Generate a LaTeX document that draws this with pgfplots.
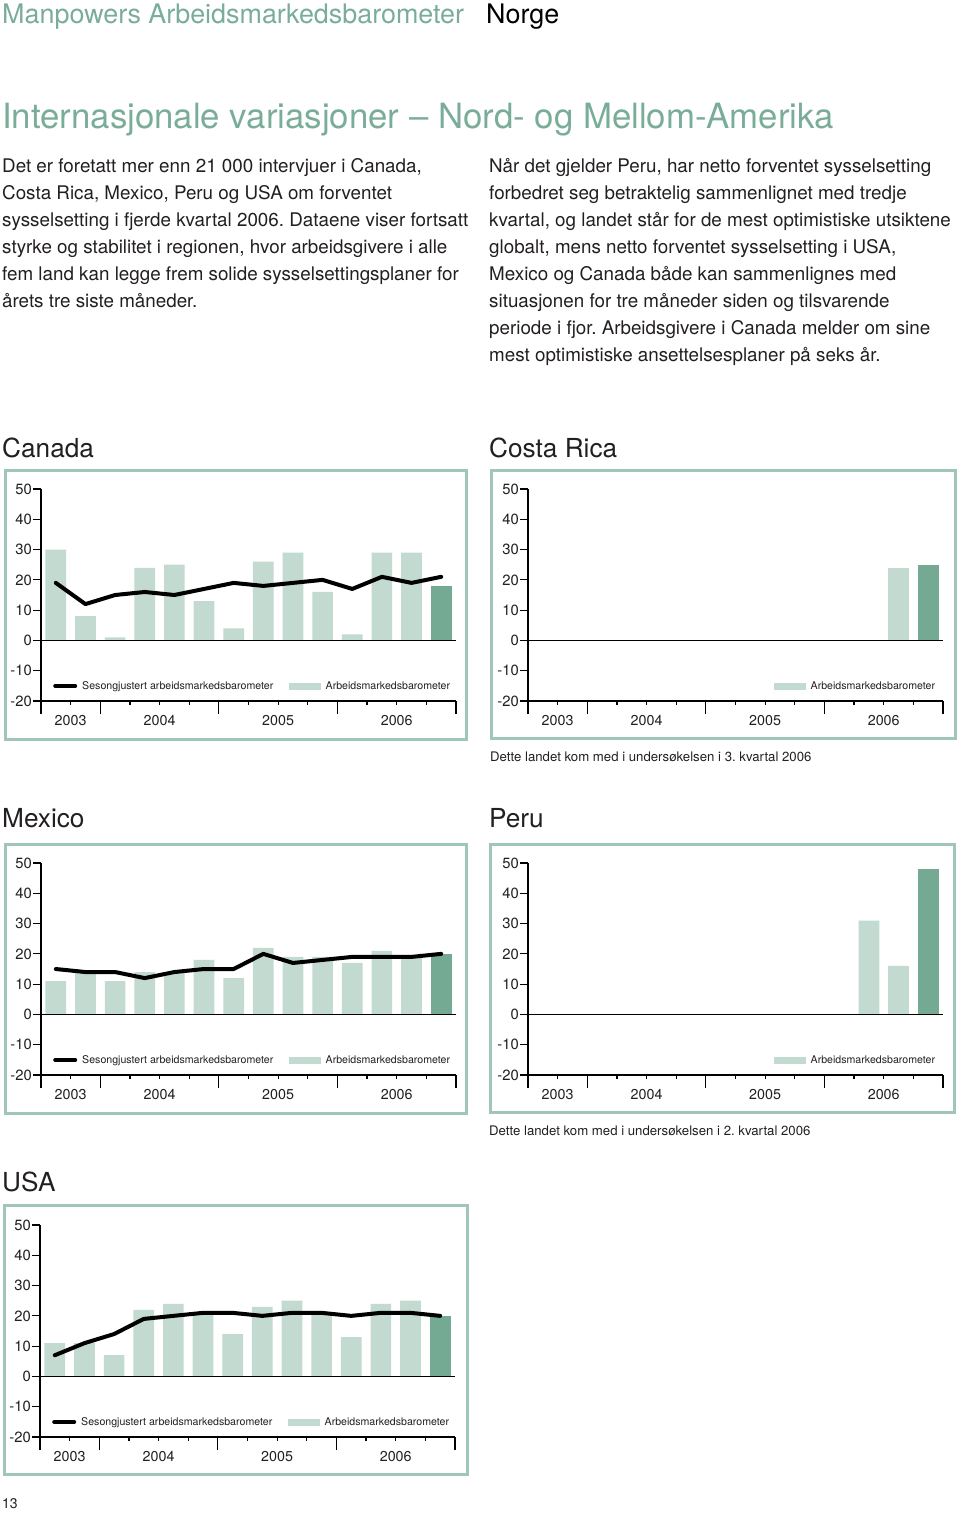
\documentclass[border=0pt]{standalone}
\usepackage{fontspec}
\setmainfont{TeX Gyre Heros}
\usepackage{pgfplots}
\pgfplotsset{compat=1.18}
\frenchspacing
\definecolor{titlegreen}{RGB}{122,173,153}
\definecolor{framecol}{RGB}{160,198,183}
\definecolor{barlight}{RGB}{194,218,208}
\definecolor{bardark}{RGB}{116,170,148}
\definecolor{bodytext}{RGB}{35,31,32}

\pgfplotsset{
  mpbase/.style={
    scale only axis, width=415pt, height=212pt,
    xmin=0.5, xmax=14.5, ymin=-20, ymax=50,
    axis lines*=left,
    axis line style={line width=1.5pt, black},
    tick align=outside,
    major tick length=4pt, minor tick length=4pt,
    tick style={black, line width=1.2pt},
    ytick=\empty,
    extra y ticks={-20,-10,0,10,20,30,40,50},
    extra y tick labels={-20,-10,0,10,20,30,40,50},
    extra y tick style={major tick length=8pt},
    yticklabel style={font=\fontsize{14.8}{15}\selectfont, inner sep=1pt, text=bodytext},
    xtick={1.5,4.5,8.5,12.5},
    xticklabels={2003,2004,2005,2006},
    xticklabel style={font=\fontsize{14.3}{15}\selectfont, yshift=-7pt, text=bodytext},
    minor xtick={3.5,5.5,7.5,9.5,11.5,13.5},
    extra x ticks={0.5,2.5,6.5,10.5,14.5},
    extra x tick labels={},
    extra x tick style={major tick length=13pt},
    clip=false,
    legend columns=2,
    legend style={draw=none, fill=none, inner sep=0pt, font=\fontsize{10.6}{12}\selectfont, text=bodytext,
      /tikz/every even column/.append style={column sep=14pt},
      /tikz/every odd column/.append style={column sep=3pt}, anchor=west},
    legend cell align=left,
  },
  barL/.style={ybar, bar shift=0pt, bar width=20.7pt, fill=barlight, draw=none},
  barD/.style={ybar, bar shift=0pt, bar width=20.7pt, fill=bardark, draw=none},
  sline/.style={black, line width=4pt, line join=round, line cap=round, mark=none, sharp plot},
}

\newcommand{\linelegend}{%
  \addlegendimage{legend image code/.code={\draw[black, line width=4pt, line cap=round] (2pt,0pt) -- (22pt,0pt);}}
  \addlegendentry{Sesongjustert arbeidsmarkedsbarometer}}
\newcommand{\barlegend}{%
  \addlegendimage{legend image code/.code={\fill[barlight] (0pt,-3pt) rectangle (31pt,3pt);}}
  \addlegendentry{Arbeidsmarkedsbarometer}}
\newcommand{\zeroline}{\draw[black, line width=1.5pt] (axis cs:0.5,0) -- (axis cs:14.5,0);}

\begin{document}
\begin{tikzpicture}
\useasboundingbox (0pt,0pt) rectangle (960pt,-1513pt);

% header
\node[anchor=base west, inner sep=0pt, text=titlegreen, font=\fontsize{26.9}{30}\selectfont] at (2pt,-23pt) {Manpowers Arbeidsmarkedsbarometer};
\node[anchor=base west, inner sep=0pt, text=black, font=\fontsize{26.9}{30}\selectfont] at (486pt,-23pt) {Norge};
\node[anchor=base west, inner sep=0pt, text=titlegreen, font=\fontsize{34.8}{40}\selectfont] at (2pt,-128pt) {Internasjonale variasjoner – Nord- og Mellom-Amerika};

% body text
\begin{scope}[every node/.style={anchor=base west, inner sep=0pt, text=bodytext, font=\fontsize{18.8}{27}\selectfont}]
\node at (2pt,-172pt) {Det er foretatt mer enn 21 000 intervjuer i Canada,};
\node at (2pt,-199pt) {Costa Rica, Mexico, Peru og USA om forventet};
\node at (2pt,-226pt) {sysselsetting i fjerde kvartal 2006. Dataene viser fortsatt};
\node at (2pt,-253pt) {styrke og stabilitet i regionen, hvor arbeidsgivere i alle};
\node at (2pt,-280pt) {fem land kan legge frem solide sysselsettingsplaner for};
\node at (2pt,-307pt) {årets tre siste måneder.};
\node at (489pt,-172pt) {Når det gjelder Peru, har netto forventet sysselsetting};
\node at (489pt,-199pt) {forbedret seg betraktelig sammenlignet med tredje};
\node at (489pt,-226pt) {kvartal, og landet står for de mest optimistiske utsiktene};
\node at (489pt,-253pt) {globalt, mens netto forventet sysselsetting i USA,};
\node at (489pt,-280pt) {Mexico og Canada både kan sammenlignes med};
\node at (489pt,-307pt) {situasjonen for tre måneder siden og tilsvarende};
\node at (489pt,-334pt) {periode i fjor. Arbeidsgivere i Canada melder om sine};
\node at (489pt,-361pt) {mest optimistiske ansettelsesplaner på seks år.};
\end{scope}

% chart titles
\begin{scope}[every node/.style={anchor=base west, inner sep=0pt, text=bodytext, font=\fontsize{26.2}{30}\selectfont}]
\node at (2pt,-457pt) {Canada};
\node at (489pt,-457pt) {Costa Rica};
\node at (2pt,-827pt) {Mexico};
\node at (489pt,-827pt) {Peru};
\node at (2pt,-1191pt) {USA};
\end{scope}

% captions and page number
\node[anchor=base west, inner sep=0pt, text=bodytext, font=\fontsize{13.2}{15}\selectfont] at (490pt,-761pt) {Dette landet kom med i undersøkelsen i 3. kvartal 2006};
\node[anchor=base west, inner sep=0pt, text=bodytext, font=\fontsize{13.2}{15}\selectfont] at (489pt,-1135pt) {Dette landet kom med i undersøkelsen i 2. kvartal 2006};
\node[anchor=base west, inner sep=0pt, text=bodytext, font=\fontsize{14}{15}\selectfont] at (2pt,-1508pt) {13};

% frames
\draw[framecol, line width=3pt] (5pt,-470pt) rectangle (466pt,-739pt);
\draw[framecol, line width=3pt] (491pt,-470pt) rectangle (955pt,-738pt);
\draw[framecol, line width=3pt] (5pt,-844pt) rectangle (466pt,-1113pt);
\draw[framecol, line width=3pt] (490pt,-844pt) rectangle (954pt,-1112pt);
\draw[framecol, line width=3pt] (4pt,-1205pt) rectangle (467pt,-1474pt);

% Canada
\begin{axis}[mpbase, at={(41pt,-701pt)}, anchor=south west,
  legend style={at={(0.029,0.071)}}]
\addplot[barL, forget plot] coordinates {(1,30) (2,8) (3,1) (4,24) (5,25) (6,13) (7,4) (8,26) (9,29) (10,16) (11,2) (12,29) (13,29)};
\addplot[barD, forget plot] coordinates {(14,18)};
\zeroline
\addplot[sline, forget plot] coordinates {(1,19) (2,12) (3,15) (4,16) (5,15) (6,17) (7,19) (8,18) (9,19) (10,20) (11,17) (12,21) (13,19) (14,21)};
\linelegend
\barlegend
\end{axis}

% Costa Rica
\begin{axis}[mpbase, at={(528pt,-701pt)}, anchor=south west,
  legend columns=1, legend style={at={(0.593,0.071)}}]
\addplot[barL, forget plot] coordinates {(13,24)};
\addplot[barD, forget plot] coordinates {(14,25)};
\zeroline
\barlegend
\end{axis}

% Mexico
\begin{axis}[mpbase, at={(41pt,-1075pt)}, anchor=south west,
  legend style={at={(0.029,0.071)}}]
\addplot[barL, forget plot] coordinates {(1,11) (2,14) (3,11) (4,14) (5,14) (6,18) (7,12) (8,22) (9,19) (10,19) (11,17) (12,21) (13,19)};
\addplot[barD, forget plot] coordinates {(14,20)};
\zeroline
\addplot[sline, forget plot] coordinates {(1,15) (2,14) (3,14) (4,12) (5,14) (6,15) (7,15) (8,20) (9,17) (10,18) (11,19) (12,19) (13,19) (14,20)};
\linelegend
\barlegend
\end{axis}

% Peru
\begin{axis}[mpbase, at={(528pt,-1075pt)}, anchor=south west,
  legend columns=1, legend style={at={(0.593,0.071)}}]
\addplot[barL, forget plot] coordinates {(12,31) (13,16)};
\addplot[barD, forget plot] coordinates {(14,48)};
\zeroline
\barlegend
\end{axis}

% USA
\begin{axis}[mpbase, at={(40pt,-1437pt)}, anchor=south west,
  legend style={at={(0.029,0.071)}}]
\addplot[barL, forget plot] coordinates {(1,11) (2,11) (3,7) (4,22) (5,24) (6,21) (7,14) (8,23) (9,25) (10,21) (11,13) (12,24) (13,25)};
\addplot[barD, forget plot] coordinates {(14,20)};
\zeroline
\addplot[sline, forget plot] coordinates {(1,7) (2,11) (3,14) (4,19) (5,20) (6,21) (7,21) (8,20) (9,21) (10,21) (11,20) (12,21) (13,21) (14,20)};
\linelegend
\barlegend
\end{axis}
\end{tikzpicture}
\end{document}
